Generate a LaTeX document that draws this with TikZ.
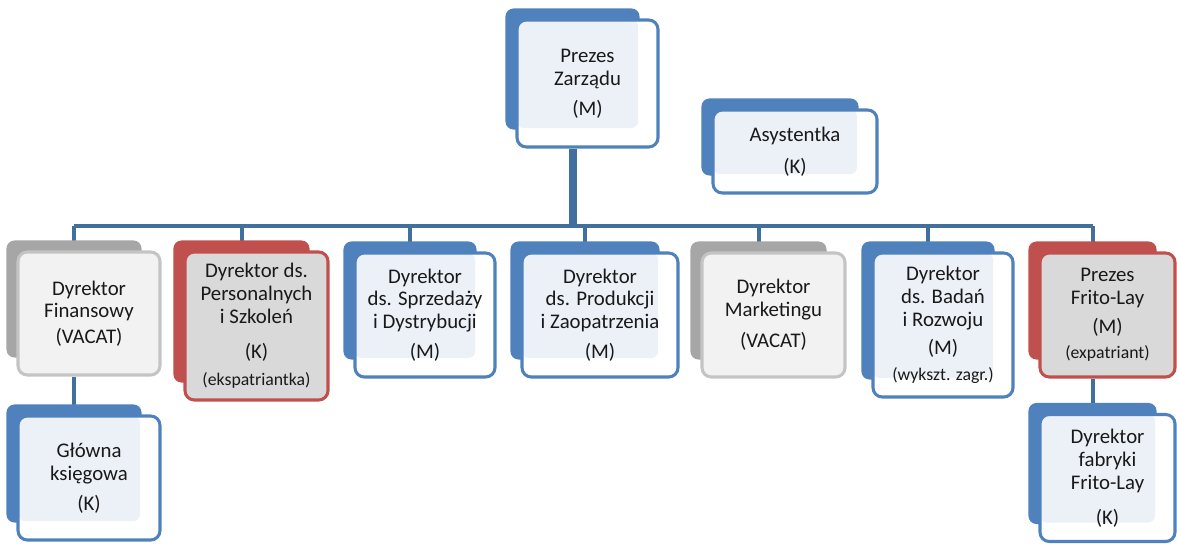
\documentclass[tikz,border=0pt]{standalone}
\usepackage{fontspec}
\setmainfont{Carlito}
\usetikzlibrary{backgrounds}

\definecolor{bluedark}{HTML}{4F81BD}
\definecolor{bluelight}{HTML}{ECF1F8}
\definecolor{reddark}{HTML}{C0504D}
\definecolor{redfill}{HTML}{D9D9D9}
\definecolor{graydark}{HTML}{A6A6A6}
\definecolor{grayline}{HTML}{C4C4C4}
\definecolor{grayfill}{HTML}{F2F2F2}
\definecolor{linkblue}{HTML}{41709F}

\newcommand{\smallnote}[1]{{\fontsize{13.3}{15}\selectfont #1}}

\tikzset{
  boxsize/.style 2 args={minimum width=#1*0.75pt, minimum height=#2*0.75pt},
  orgbox/.style={draw, line width=2.3pt, rounded corners=7pt, align=center, inner sep=0pt,
    font=\fontsize{15.6}{17.2}\selectfont, text=black!90},
  bluebox/.style={orgbox, draw=bluedark, fill=white,
    path picture={\fill[bluelight, rounded corners=5pt] (path picture bounding box.north west)
      rectangle ([shift={(-20,-19)}]path picture bounding box.south east);}},
  redbox/.style={orgbox, draw=reddark, fill=redfill},
  graybox/.style={orgbox, draw=grayline, fill=grayfill},
  link/.style={draw=linkblue, line width=3pt},
  trunk/.style={draw=linkblue, line width=6pt}
}

\begin{document}
\begin{tikzpicture}[x=0.75pt, y=-0.75pt]
\useasboundingbox (0,0) rectangle (1177,543);

\node[bluebox, boxsize={141}{127}] (boss) at (587.5,83.5) {Prezes\\Zarządu\\[5pt](M)};
\node[bluebox, boxsize={164}{83}] (asyst) at (795,151.5) {Asystentka\\[7pt](K)};

\node[graybox, boxsize={142}{123}] (fin) at (89,313.5) {Dyrektor\\Finansowy\\[2pt](VACAT)};
\node[redbox, boxsize={143}{148}] (pers) at (256.5,326) {Dyrektor ds.\\Personalnych\\i Szkoleń\\[9pt](K)\\[3pt]\smallnote{(ekspatriantka)}};
\node[bluebox, boxsize={140}{124}] (sprz) at (425,315) {Dyrektor\\ds. Sprzedaży\\i Dystrybucji\\[5pt](M)};
\node[bluebox, boxsize={156}{124}] (prod) at (600,315) {Dyrektor\\ds. Produkcji\\i Zaopatrzenia\\[5pt](M)};
\node[graybox, boxsize={143}{124}] (mark) at (773.5,315) {Dyrektor\\Marketingu\\[6pt](VACAT)};
\node[bluebox, boxsize={140}{144}] (bad) at (943,325) {Dyrektor\\ds. Badań\\i Rozwoju\\[4pt](M)\\[2pt]\smallnote{(wykszt. zagr.)}};
\node[redbox, boxsize={135}{124}] (frito) at (1107.5,315) {Prezes\\Frito-Lay\\[4pt](M)\\[2pt]\smallnote{(expatriant)}};

\node[bluebox, boxsize={142}{124}] (gk) at (89,478) {Główna\\księgowa\\[5pt](K)};
\node[bluebox, boxsize={135}{127}] (fab) at (1107.5,478) {Dyrektor\\fabryki\\Frito-Lay\\[9pt](K)};

\begin{scope}[on background layer]
  \coordinate (bus) at ([shift={(-15,-24)}]fin.north);
  \draw[trunk] ([xshift=-11.25pt]boss.south) -- ([xshift=-11.25pt]boss.south |- bus);
  \draw[link] ([xshift=-11.25pt]fin.north |- bus) -- ([xshift=-11.25pt]frito.north |- bus);
  \foreach \n in {fin,pers,sprz,prod,mark,bad,frito}
    \draw[link] ([xshift=-11.25pt]\n.north |- bus) -- ([xshift=-11.25pt]\n.north);
  \draw[link] ([xshift=-11.25pt]fin.south) -- ([xshift=-11.25pt]gk.north);
  \draw[link] ([xshift=-11.25pt]frito.south) -- ([xshift=-11.25pt]fab.north);
  % shadow boxes behind
  \foreach \n/\c in {boss/bluedark,asyst/bluedark,fin/graydark,pers/reddark,sprz/bluedark,prod/bluedark,
      mark/graydark,bad/bluedark,frito/reddark,gk/bluedark,fab/bluedark}
    \fill[\c, rounded corners=6pt] ([shift={(-10,-10)}]\n.north west) rectangle ([shift={(-20,-19)}]\n.south east);
\end{scope}
\end{tikzpicture}
\end{document}
